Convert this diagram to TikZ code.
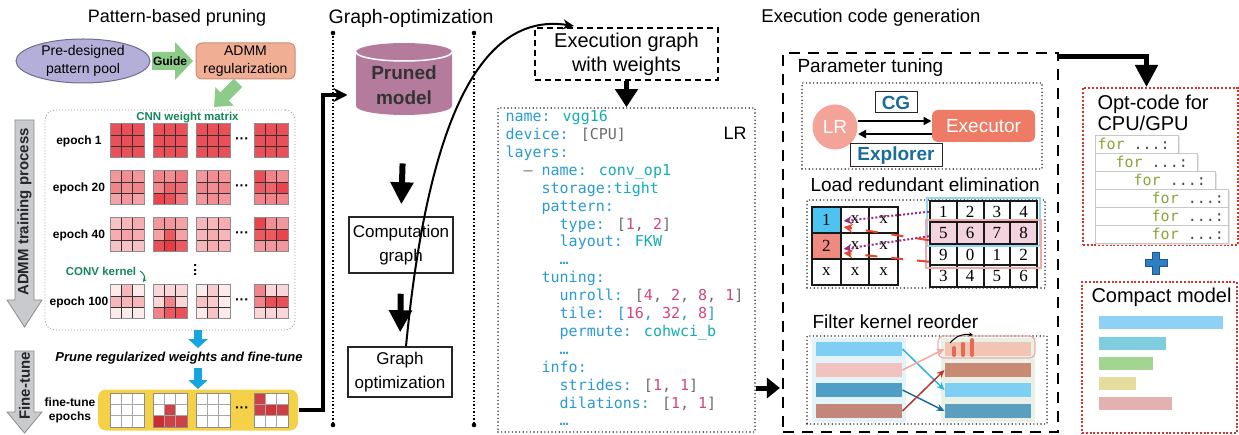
\documentclass[tikz,border=0pt]{standalone}
\usepackage{fontspec}
\setmainfont{Liberation Sans}
\newfontfamily\codefont{DejaVu Sans Mono}
\newfontfamily\gridfont{Liberation Serif}
\usetikzlibrary{arrows.meta,calc,positioning}

\definecolor{poolfill}{HTML}{B4AFD8}
\definecolor{pooldraw}{HTML}{6F6C8F}
\definecolor{guidegreen}{HTML}{8DCC88}
\definecolor{admmfill}{HTML}{F0AF95}
\definecolor{admmdraw}{HTML}{C98C76}
\definecolor{cnngreen}{HTML}{17875A}
\definecolor{wred}{HTML}{E8303A}
\definecolor{ftred}{HTML}{C92C32}
\definecolor{tuneyellow}{HTML}{F5D148}
\definecolor{downcyan}{HTML}{17A5E0}
\definecolor{arrowgrey}{HTML}{C8CACD}
\definecolor{cylfill}{HTML}{B57B9D}
\definecolor{keyblue}{HTML}{2A9AD6}
\definecolor{valteal}{HTML}{13ADB3}
\definecolor{numpink}{HTML}{D6447E}
\definecolor{brgrey}{HTML}{6B6B6B}
\definecolor{lrpink}{HTML}{F3A398}
\definecolor{execfill}{HTML}{EE7B65}
\definecolor{tuneblue}{HTML}{1A6C9B}
\definecolor{cellcyan}{HTML}{4CC3F1}
\definecolor{cellred}{HTML}{EE8A80}
\definecolor{rowpink}{HTML}{F2D3DE}
\definecolor{rowcyan}{HTML}{93D5F2}
\definecolor{rowred}{HTML}{F1A9A9}
\definecolor{loadpurple}{HTML}{9A2F7E}
\definecolor{loadred}{HTML}{E6452F}
\definecolor{fkA}{HTML}{7FCFF5}
\definecolor{fkB}{HTML}{F1C3BE}
\definecolor{fkC}{HTML}{4E9EC6}
\definecolor{fkD}{HTML}{C4867A}
\definecolor{fkE}{HTML}{F2C4B3}
\definecolor{fkF}{HTML}{C88A73}
\definecolor{fkG}{HTML}{5A9FBF}
\definecolor{fkbgl}{HTML}{E4F3FA}
\definecolor{fkbgr}{HTML}{E9F1E6}
\definecolor{fkarA}{HTML}{2CB3EA}
\definecolor{fkarB}{HTML}{F3A69C}
\definecolor{fkarC}{HTML}{1A6A9C}
\definecolor{fkarD}{HTML}{B7362E}
\definecolor{iconred}{HTML}{E66A4F}
\definecolor{optred}{HTML}{D2362C}
\definecolor{forgreen}{HTML}{8AA43A}
\definecolor{plusblue}{HTML}{2E7EC6}
\definecolor{cmA}{HTML}{8ED1F4}
\definecolor{cmB}{HTML}{7FCEDF}
\definecolor{cmC}{HTML}{A2D591}
\definecolor{cmD}{HTML}{E4DD9D}
\definecolor{cmE}{HTML}{E3B1AF}

\newcommand\fsz[2]{\fontsize{#1}{#2}\selectfont}
\newcommand\wbase{wred}
% 3x3 kernel: [line colour]{x}{y}{nine shades}
\newcommand\wmat[4][black!80]{%
  \foreach \v [count=\i from 0] in {#4}{%
    \pgfmathtruncatemacro\cc{mod(\i,3)}%
    \pgfmathtruncatemacro\rr{\i/3}%
    \fill[color=\wbase!\v!white] ({#2+\cc*11.33},{#3+\rr*11.33}) rectangle ++(11.33,11.33);
  }%
  \foreach \k in {1,2}{%
    \draw[#1, line width=1.1pt] ({#2+\k*11.33},#3) -- ++(0,34);
    \draw[#1, line width=1.1pt] (#2,{#3+\k*11.33}) -- ++(34,0);
  }%
  \draw[black!45, line width=1pt] (#2,#3) rectangle ++(34,34);
}
\newcommand\ckey[1]{\textcolor{keyblue}{#1}}
\newcommand\cval[1]{\textcolor{valteal}{#1}}
\newcommand\cnum[1]{\textcolor{numpink}{#1}}
\newcommand\cbrk[1]{\textcolor{brgrey}{#1}}
\newcommand\cind[1]{\hspace*{#1\fontcharwd\font`\x}}

\tikzset{
  epochlbl/.style={font=\bfseries\fsz{12}{14}},
  sidearrow/.style={fill=arrowgrey, draw=black!45, line width=0.8pt},
  sidetext/.style={rotate=90, text=black!85, font=\bfseries\fsz{15}{18}},
  dotbox/.style={draw=black!85, line width=1.6pt, line cap=round, dash pattern=on 0pt off 3.6pt},
  reddot/.style={draw=optred, line width=2pt, dash pattern=on 2pt off 1.8pt},
  plainbox/.style={draw=black!85, line width=1.5pt, align=center, font=\fsz{17}{24.5}},
  blockarrow/.style={line width=6pt, -{Triangle[width=22pt,length=22pt]}},
  cyanarrow/.style={downcyan, line width=8pt, -{Triangle[width=19pt,length=9pt]}},
  tunearrow/.style={line width=2.2pt, -{Triangle[width=8pt,length=8pt]}},
  tunelbl/.style={draw=black!85, line width=1pt, inner sep=0, text=tuneblue, font=\bfseries\fsz{19}{22}},
  lcell/.style={draw=black!90, line width=2pt, minimum width=28.67, minimum height=26, inner sep=0, font=\gridfont\fsz{17}{20}},
  rcell/.style={draw=black!90, line width=2pt, minimum width=26.75, minimum height=21.5, inner sep=0, font=\gridfont\fsz{17}{20}},
  bar/.style={minimum width=86, minimum height=14, inner sep=0},
  fkarrow/.style={line width=1.5pt, -{Stealth[length=8pt,width=7pt]}},
  subtitle/.style={anchor=west, inner sep=0, font=\fsz{19}{22}}
}

\begin{document}
\begin{tikzpicture}[x=1pt, y=-1pt, line width=1pt]
  \useasboundingbox (0,0) rectangle (1239,435);

  % section titles
  \node[font=\fsz{18}{21}] (ttlprune) at (177,18) {Pattern-based pruning};
  \node[font=\fsz{19.5}{23}] (ttlgraph) at (411,18) {Graph-optimization};
  \node[font=\fsz{18.5}{22}] (ttlcode) at (871,18) {Execution code generation};

  % ---- pattern-based pruning
  \coordinate (poolc) at (83,61);
  \draw[draw=pooldraw, fill=poolfill] (poolc) ellipse [x radius=67, y radius=22];
  \node[font=\fsz{14}{18}, align=center] (pool) at (poolc) {Pre-designed\\pattern pool};
  \fill[guidegreen] (152,52) -- (175,52) -- (175,42) -- (193,61) -- (175,80) -- (175,70) -- (152,70) -- cycle;
  \node[font=\bfseries\fsz{12}{14}] (guide) at (170,61) {Guide};
  \node[draw=admmdraw, fill=admmfill, rounded corners=6, minimum width=99, minimum height=36, inner sep=0,
        align=center, font=\fsz{14}{18}] (admm) at (245.5,61) {ADMM\\regularization};
  \fill[guidegreen] (233.8,78.8) -- (242.2,87.2) -- (228.8,100.6) -- (233.8,105.6) -- (214,107)
        -- (215.4,87.2) -- (220.4,92.2) -- cycle;

  \node[draw=black!40, line width=0.9pt, dash pattern=on 1pt off 2pt, rounded corners=10,
        minimum width=250, minimum height=220] (wbox) at (170,220) {};
  \node[font=\bfseries\fsz{11.5}{14}, text=cnngreen] (cnn) at (187.5,118) {CNN weight matrix};
  \node[epochlbl] (e1) at (79,141) {epoch 1};
  \node[epochlbl] (e20) at (79,188) {epoch 20};
  \node[epochlbl] (e40) at (79,235) {epoch 40};
  \node[epochlbl] (e100) at (79,302) {epoch 100};

  % epoch 1
  \foreach \mx in {110,153,196,254}{\wmat{\mx}{124}{85,85,85,85,85,85,85,85,85}}
  % epoch 20
  \wmat{110}{171}{50,55,50,60,55,60,45,50,45}
  \wmat{153}{171}{60,55,65,60,75,70,90,85,65}
  \wmat{196}{171}{50,55,50,60,55,60,50,55,50}
  \wmat{254}{171}{85,60,55,80,75,90,60,60,60}
  % epoch 40
  \wmat{110}{218}{30,35,40,40,45,40,30,30,30}
  \wmat{153}{218}{50,50,45,45,80,45,85,95,80}
  \wmat{196}{218}{35,35,40,35,40,35,35,40,35}
  \wmat{254}{218}{90,55,50,80,80,90,50,50,50}
  % epoch 100
  \wmat{110}{285}{10,35,10,35,35,35,10,10,10}
  \wmat{153}{285}{20,20,20,20,60,20,60,80,85}
  \wmat{196}{285}{10,25,10,30,25,10,10,30,10}
  \wmat{254}{285}{60,20,20,60,85,85,20,20,20}
  \foreach \my in {141,188,235,302}{\node[font=\bfseries\fsz{14}{16}] at (242,\my) {···};}
  \node[font=\bfseries\fsz{14}{16}, rotate=90] (vdots) at (197,270) {···};
  \node[font=\bfseries\fsz{11.5}{14}, text=cnngreen] (conv) at (101,271) {CONV kernel};
  \draw[cnngreen, line width=1pt, -{Stealth[length=4pt,width=4pt]}] (conv.east) to[bend left=50] (143,282);

  % side arrows
  \draw[sidearrow] (15,120) -- (34,120) -- (34,300) -- (42,300) -- (24.5,327) -- (7,300) -- (15,300) -- cycle;
  \node[sidetext] (admmtxt) at (24.5,212) {ADMM training process};
  \draw[sidearrow] (15,351) -- (34,351) -- (34,412) -- (42,412) -- (24.5,433) -- (7,412) -- (15,412) -- cycle;
  \node[sidetext] (fttxt) at (24.5,386) {Fine-tune};

  % fine-tune
  \node[font=\bfseries\itshape\fsz{13}{15}] (prune) at (179,358) {Prune regularized weights and fine-tune};
  \node[fill=tuneyellow, rounded corners=8, minimum width=200, minimum height=41] (ftbox) at (198,410) {};
  \draw[cyanarrow] (wbox.south -| ftbox.center) -- (prune.north -| ftbox.center);
  \draw[cyanarrow] (prune.south -| ftbox.center) -- (ftbox.north);
  \node[epochlbl, align=center, font=\bfseries\fsz{12}{14}] (ftlbl) at (70,410) {fine-tune\\epochs};
  \def\wbase{ftred}
  \wmat[black!35]{110}{393}{0,0,0,0,0,0,0,0,0}
  \wmat[black!35]{153}{393}{0,0,0,0,90,0,100,90,90}
  \wmat[black!35]{196}{393}{0,0,0,0,0,0,0,0,0}
  \wmat[black!35]{254}{393}{90,0,0,90,95,90,0,0,0}
  \node[font=\bfseries\fsz{14}{16}] at (242,410) {···};

  % ---- graph optimization
  \coordinate (ga) at (333,33);
  \coordinate (gb) at (333,425);
  \coordinate (gc) at (474,33);
  \coordinate (gd) at (474,425);
  \draw[line width=1.3pt, dash pattern=on 1.5pt off 2pt] (ga) -- (gb);
  \draw[line width=1.3pt, dash pattern=on 1.5pt off 2pt] (gc) -- (gd);
  \foreach \gp in {ga,gb,gc,gd}{\fill (\gp) circle (2.3);}

  \fill[cylfill] (356,52) -- (356,106) arc[start angle=180, end angle=0, x radius=48, y radius=9]
        -- (452,52) arc[start angle=0, end angle=-180, x radius=48, y radius=9] -- cycle;
  \draw[white, line width=1.5pt] (356,52) arc[start angle=180, end angle=0, x radius=48, y radius=9];
  \node[minimum width=96, minimum height=72, inner sep=0] (pruned) at (404,79) {};
  \node[font=\bfseries\fsz{19}{25}, text=black!80, align=center] (prunedtxt) at (404,85) {Pruned\\model};
  \draw[line width=4pt, -{Stealth[length=14pt,width=14pt]}] (ftbox.east) -- (323,410) |- ($(pruned.west)+(-8,16)$);

  \node[plainbox, minimum width=104, minimum height=56] (comp) at (401,245) {Computation\\graph};
  \node[plainbox, minimum width=104, minimum height=50] (gopt) at (400,372) {Graph\\optimization};
  \draw[blockarrow, shorten <=48pt, shorten >=12pt] (pruned.south) -- (comp.north);
  \draw[blockarrow, shorten <=20pt, shorten >=14pt] (comp.south) -- (gopt.north);

  % ---- execution graph + LR
  \node[draw, line width=2pt, dash pattern=on 6pt off 4pt, minimum width=183, minimum height=52,
        align=center, font=\fsz{20}{24}] (exg) at (626.5,54) {Execution graph\\with weights};
  \draw[line width=2pt, -{Stealth[length=11pt,width=10pt]}] ($(gopt.north)+(6,0)$)
        .. controls (425,150) and (470,10) .. ($(exg.north west)+(40,-1)$);
  \node[dotbox, minimum width=257, minimum height=324] (code) at (626.5,270) {};
  \draw[line width=5pt, -{Triangle[width=22pt,length=18pt]}] (exg.south) -- (code.north);
  \node[font=\fsz{18}{21}] (lrlbl) at (735,133) {LR};
  \node[anchor=north west, inner sep=0, align=left, font=\codefont\fsz{15}{17.9}] (yaml) at (505,110) {%
\ckey{name:} \cval{vgg16}\\
\ckey{device:} \cbrk{[CPU]}\\
\ckey{layers:}\\
\cind{2}\cbrk{–} \ckey{name:} \cval{conv\_op1}\\
\cind{4}\ckey{storage:}\cval{tight}\\
\cind{4}\ckey{pattern:}\\
\cind{6}\ckey{type:} \cbrk{[}\cnum{1}\cbrk{, }\cnum{2}\cbrk{]}\\
\cind{6}\ckey{layout:} \cval{FKW}\\
\cind{6}\ckey{…}\\
\cind{4}\ckey{tuning:}\\
\cind{6}\ckey{unroll:} \cbrk{[}\cnum{4}\cbrk{, }\cnum{2}\cbrk{, }\cnum{8}\cbrk{, }\cnum{1}\cbrk{]}\\
\cind{6}\ckey{tile: [}\cnum{16}\ckey{, }\cnum{32}\ckey{, }\cnum{8}\ckey{]}\\
\cind{6}\ckey{permute:} \cval{cohwci\_b}\\
\cind{6}\ckey{…}\\
\cind{4}\ckey{info:}\\
\cind{6}\ckey{strides:} \cbrk{[}\cnum{1}\cbrk{, }\cnum{1}\cbrk{]}\\
\cind{6}\ckey{dilations:} \cbrk{[}\cnum{1}\cbrk{, }\cnum{1}\cbrk{]}\\
\cind{6}\ckey{…}};

  % ---- execution code generation
  \node[draw, line width=2.2pt, dash pattern=on 11pt off 8pt, minimum width=275, minimum height=379] (execbox) at (920.5,242.5) {};
  \draw[line width=5pt, -{Triangle[width=20pt,length=13pt]}] ($(code.east)+(0,118)$) -- ($(execbox.west)+(-2,145.5)$);

  % parameter tuning
  \node[subtitle] (pt) at (797,68) {Parameter tuning};
  \node[dotbox, minimum width=240, minimum height=86] (ptbox) at (922,126) {};
  \node[circle, fill=lrpink, minimum size=45, inner sep=0, text=white, font=\fsz{19}{22}] (lr) at (835,127) {LR};
  \node[fill=execfill, rounded corners=6, minimum width=103, minimum height=32, inner sep=0,
        text=white, font=\fsz{19}{22}] (executor) at (983.5,126) {Executor};
  \draw[tunearrow] ($(lr.east)+(0,-6)$) -- ($(executor.west)+(0,-5)$);
  \draw[tunearrow] ($(executor.west)+(0,8)$) -- ($(lr.east)+(0,7)$);
  \node[tunelbl, minimum width=42, minimum height=21] (cg) at (896,102.5) {CG};
  \node[tunelbl, minimum width=92, minimum height=23] (explorer) at (896,155.5) {Explorer};

  % load redundant elimination
  \node[subtitle] (lre) at (810,185) {Load redundant elimination};
  \node[dotbox, minimum width=238, minimum height=88] (lrebox) at (926,244) {};
  \foreach \r/\c/\t/\f in {1/1/1/cellcyan, 1/2/x/white, 1/3/x/white,
                           2/1/2/cellred, 2/2/x/white, 2/3/x/white,
                           3/1/x/white, 3/2/x/white, 3/3/x/white}{
    \node[lcell, fill=\f] (L-\r-\c) at ({812+(\c-0.5)*28.67},{207+(\r-0.5)*26}) {\t};
  }
  \fill[rowpink] (930,222.5) rectangle (1037,244);
  \foreach \t [count=\k from 0] in {1,2,3,4,5,6,7,8,9,0,1,2,3,4,5,6}{
    \pgfmathtruncatemacro\rr{\k/4+1}
    \pgfmathtruncatemacro\cc{mod(\k,4)+1}
    \node[rcell] (R-\rr-\cc) at ({930+(\cc-0.5)*26.75},{201+(\rr-0.5)*21.5}) {\t};
  }
  \draw[rowcyan, line width=1.3pt] (927,198) rectangle (1040,246);
  \draw[rowred, line width=1.3pt] (926,220) rectangle (1041,268);
  \draw[loadpurple, line width=2pt, dotted, -{Stealth[length=8pt,width=8pt]}] (R-1-1.west) -- ($(L-1-1.east)+(2,1)$);
  \draw[loadpurple, line width=2pt, dotted, -{Stealth[length=8pt,width=8pt]}] ($(R-2-1.west)+(0,3)$) -- ($(L-2-1.east)+(2,3)$);
  \draw[loadred, line width=2pt, dash pattern=on 12pt off 14pt, -{Stealth[length=9pt,width=9pt]}] ($(R-2-1.west)+(0,7)$) -- ($(L-1-1.east)+(2,7)$);
  \draw[loadred, line width=2pt, dash pattern=on 12pt off 14pt, -{Stealth[length=9pt,width=9pt]}] ($(R-3-1.west)+(0,7)$) -- ($(L-2-1.east)+(2,7)$);

  % filter kernel reorder
  \node[subtitle] (fkr) at (812,322) {Filter kernel reorder};
  \node[dotbox, minimum width=240, minimum height=88] (fkbox) at (927,380) {};
  \fill[fkbgl] (812,338) rectangle (906,422);
  \fill[fkbgr] (941,338) rectangle (1035,422);
  \node[bar, fill=fkA] (lb1) at (859,349) {};
  \node[bar, fill=fkB] (lb2) at (859,370) {};
  \node[bar, fill=fkC] (lb3) at (859,390) {};
  \node[bar, fill=fkD] (lb4) at (859,411) {};
  \node[bar, fill=fkE] (rb1) at (988,349) {};
  \node[bar, fill=fkF] (rb2) at (988,370) {};
  \node[bar, fill=fkA] (rb3) at (988,390) {};
  \node[bar, fill=fkG] (rb4) at (988,411) {};
  \draw[rowred, line width=1.2pt, rounded corners=6] (938,336) rectangle (1035,358);
  \foreach \bx/\by in {954/348, 963/344, 972/340}{\draw[iconred, line width=4pt, line cap=round] (\bx,\by) -- (\bx,355);}
  \draw[line width=1pt, -{Stealth[length=4pt,width=4pt]}] (950,343) to[bend left=30] (973,335);
  \draw[fkarrow, fkarA] (lb1.east) -- (rb3.west);
  \draw[fkarrow, fkarB] (lb2.east) -- (rb1.west);
  \draw[fkarrow, fkarC] (lb3.east) -- (rb4.west);
  \draw[fkarrow, fkarD] (lb4.east) -- (rb2.west);

  % ---- outputs
  \node[reddot, minimum width=155, minimum height=157] (optcode) at (1160.5,166.5) {};
  \draw[line width=5pt, -{Triangle[width=22pt,length=22pt]}] ($(execbox.north east)+(0,5)$) -| ($(optcode.north)+(-14,0)$);
  \node[anchor=north west, inner sep=0, align=left, font=\fsz{20}{21}] (opttxt) at (1097,95) {Opt-code for\\CPU/GPU};
  \foreach \k/\bx/\bi in {0/1178/0, 1/1197/2, 2/1215/4, 3/1228/6, 4/1228/6, 5/1228/6}{
    \fill[black!10] (1097,{137+18*\k}) rectangle ({\bx+2},{155+18*\k});
    \draw[black!22, fill=white, line width=0.8pt] (1095,{135+18*\k}) rectangle (\bx,{153+18*\k});
    \node[anchor=west, inner sep=0, font=\codefont\fsz{15}{17}] (for\k) at ({1097+\bi*9.03},{144+18*\k})
      {\textcolor{forgreen}{for} \textcolor{black!70}{...:}};
  }
  \fill[plusblue, draw=plusblue!70!black, line width=0.8pt] (1152.5,252) -- (1159.5,252) -- (1159.5,259.5)
        -- (1167,259.5) -- (1167,266.5) -- (1159.5,266.5) -- (1159.5,274) -- (1152.5,274) -- (1152.5,266.5)
        -- (1145,266.5) -- (1145,259.5) -- (1152.5,259.5) -- cycle;
  \node[reddot, minimum width=155, minimum height=151] (compact) at (1159.5,357.5) {};
  \node[anchor=west, inner sep=0, font=\fsz{20}{22}] (cmtxt) at (1091,297) {Compact model};
  \foreach \ey/\ex/\cl in {316/1223/cmA, 337/1166/cmB, 357/1153/cmC, 377/1136/cmD, 397/1172/cmE}{
    \fill[\cl] (1099,\ey) rectangle (\ex,{\ey+13});
  }
\end{tikzpicture}
\end{document}
